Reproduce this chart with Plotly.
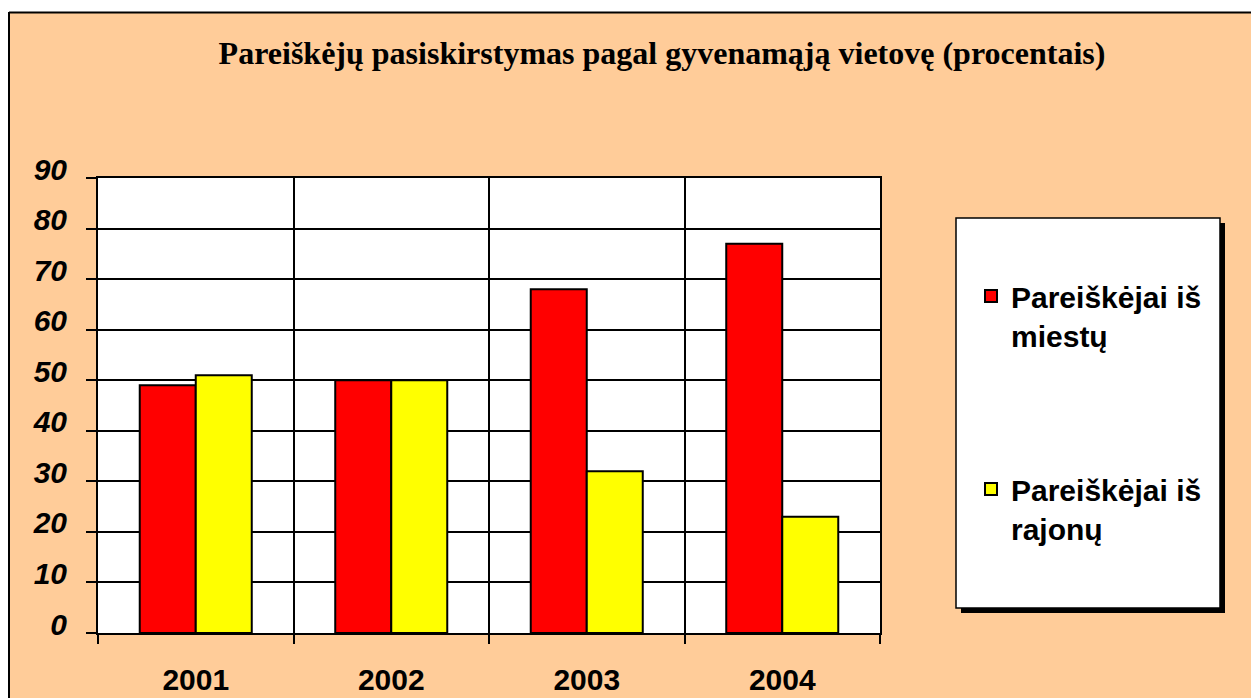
import plotly.graph_objects as go

years = ["2001", "2002", "2003", "2004"]
miestu = [49, 50, 68, 77]
rajonu = [51, 50, 32, 23]
series_names = ["Pareiškėjai iš<br>miestų", "Pareiškėjai iš<br>rajonų"]
y_ticks = [0, 10, 20, 30, 40, 50, 60, 70, 80, 90]
title_text = "Pareiškėjų pasiskirstymas pagal gyvenamąją vietovę (procentais)"

OFF = 8  # page body margin
W, H = 1259 - OFF, 698 - OFF
L, R, T, B = 98 - OFF, 880 - OFF, 178 - OFF, 633 - OFF

def fx(sx):
    return (sx - OFF - L) / (R - L)

def fy(sy):
    return (B - (sy - OFF)) / (B - T)

xpos = list(range(len(years)))

fig = go.Figure()
fig.add_trace(go.Bar(x=xpos, y=miestu, name=series_names[0], legendgroup="a",
                     marker=dict(color="#FF0000", line=dict(color="black", width=2))))
fig.add_trace(go.Bar(x=xpos, y=rajonu, name=series_names[1], legendgroup="b",
                     marker=dict(color="#FFFF00", line=dict(color="black", width=2))))

shapes = [
    dict(type="rect", xref="paper", yref="paper", x0=fx(0), x1=fx(1270), y0=fy(0), y1=fy(12),
         fillcolor="white", line=dict(width=0), layer="below"),
    dict(type="line", xref="paper", yref="paper", x0=fx(9), x1=fx(1270), y0=fy(12.5), y1=fy(12.5),
         line=dict(color="black", width=2)),
    dict(type="line", xref="paper", yref="paper", x0=fx(9), x1=fx(9), y0=fy(12), y1=fy(710),
         line=dict(color="black", width=2)),
    dict(type="rect", xref="paper", yref="paper", x0=fx(961), x1=fx(1225), y0=fy(613), y1=fy(223),
         fillcolor="black", line=dict(width=0)),
    dict(type="rect", xref="paper", yref="paper", x0=fx(956), x1=fx(1220), y0=fy(608), y1=fy(218),
         fillcolor="white", line=dict(color="black", width=1.5)),
]

fig.update_layout(
    width=W, height=H,
    margin=dict(l=L, r=W - R, t=T, b=H - B, autoexpand=False),
    paper_bgcolor="#FFCC99",
    plot_bgcolor="white",
    barmode="group",
    bargap=0.427,
    bargroupgap=0,
    shapes=shapes,
    title=dict(text=title_text, x=(662 - OFF) / W, xref="container", xanchor="center",
               y=1 - (53 - OFF) / H, yref="container", yanchor="middle",
               font=dict(family="Liberation Serif", size=32, color="black", weight="bold")),
    legend=dict(x=fx(971), y=fy(270), xanchor="left", yanchor="top",
                bgcolor="rgba(0,0,0,0)", borderwidth=0, valign="top",
                tracegroupgap=112,
                font=dict(family="Liberation Sans", size=30, color="black", weight="bold")),
    showlegend=True,
)

fig.update_xaxes(
    range=[-0.5, 3.5], automargin=False,
    tickvals=xpos, ticktext=years,
    ticks="", showgrid=False, zeroline=False,
    showline=True, linecolor="black", linewidth=2, mirror=True,
    tickfont=dict(family="Liberation Sans", size=30, color="black", weight="bold"),
    ticklabelstandoff=19,
    minor=dict(tickvals=[-0.5, 0.5, 1.5, 2.5, 3.5], ticks="outside", ticklen=9,
               tickcolor="black", tickwidth=2, showgrid=True, gridcolor="black", gridwidth=1.5),
)
fig.update_yaxes(
    range=[0, 90], automargin=False,
    tickvals=y_ticks,
    ticks="outside", ticklen=10, tickcolor="black", tickwidth=2,
    showgrid=True, gridcolor="black", gridwidth=1.5, zeroline=False,
    showline=True, linecolor="black", linewidth=2, mirror=True,
    tickfont=dict(family="Liberation Sans", size=30, color="black", weight="bold", style="italic"),
    ticklabelstandoff=13, ticklabelshift=-9,
)

fig.write_html("out.html")
